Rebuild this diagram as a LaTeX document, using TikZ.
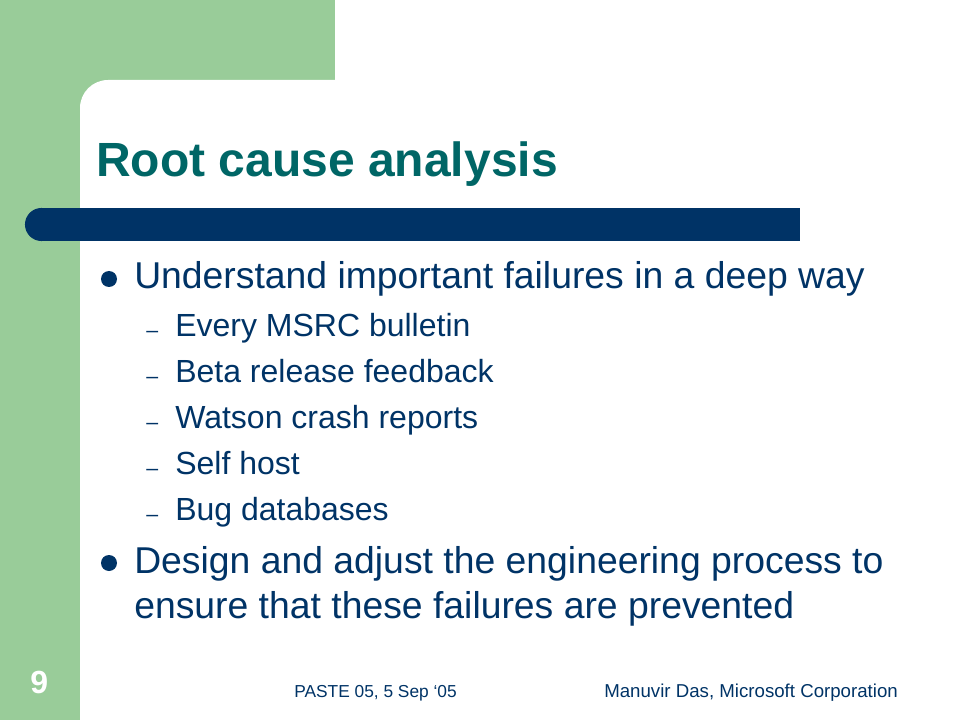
\documentclass[tikz,border=0pt]{standalone}
\usepackage{fontspec}
\setmainfont{Liberation Sans}
\usepackage{tikz}
\usepackage{color}
\definecolor{slidegreen}{RGB}{153,204,153}
\definecolor{slideteal}{RGB}{0,102,102}
\definecolor{slidenavy}{RGB}{0,51,102}

\begin{document}
\begin{tikzpicture}[x=0.75pt,y=-0.75pt,
  txt/.style={anchor=base west,inner sep=0pt,text=slidenavy},
  big/.style={txt,font=\fontsize{28}{34}\selectfont},
  small/.style={txt,font=\fontsize{24}{29}\selectfont},
  subdash/.style={txt,font=\fontsize{16}{19}\selectfont},
  foot/.style={txt,font=\fontsize{14}{17}\selectfont},
  dot/.style={circle,fill=slidenavy,minimum size=12pt,inner sep=0pt}]
\useasboundingbox (0,0) rectangle (960,720);
\fill[slidegreen] (0,0) rectangle (335,120);
\fill[slidegreen] (0,0) rectangle (80,720);
\fill[white,rounded corners=21pt] (80,80) rectangle (400,300);
\fill[slidenavy] (41.5,208) rectangle (800,241);
\fill[slidenavy] (41.5,224.5) circle[radius=12.4pt];
\node[txt,text=slideteal,font=\fontsize{36}{43}\selectfont\bfseries] (0) at (96,177) {Root cause analysis};
\node[dot] (d1) at (109,279) {};
\node[big] (1) at (134,289) {Understand important failures in a deep way};
\node[subdash] (m1) at (146,337) {–};
\node[small] (1a) at (175,336) {Every MSRC bulletin};
\node[subdash] (m2) at (146,383) {–};
\node[small] (1b) at (175,382) {Beta release feedback};
\node[subdash] (m3) at (146,429) {–};
\node[small] (1c) at (175,428) {Watson crash reports};
\node[subdash] (m4) at (146,475) {–};
\node[small] (1d) at (175,474) {Self host};
\node[subdash] (m5) at (146,521) {–};
\node[small] (1e) at (175,520) {Bug databases};
\node[dot] (d2) at (109,563) {};
\node[big] (2) at (134,573) {Design and adjust the engineering process to};
\node[big] (2b) at (134,618) {ensure that these failures are prevented};
\node[txt,text=white,font=\fontsize{24}{28}\selectfont\bfseries] (9) at (30,693) {9};
\node[foot,font=\fontsize{13}{16}\selectfont] (f1) at (294,697) {PASTE 05, 5 Sep ‘05};
\node[foot] (f2) at (604,697) {Manuvir Das, Microsoft Corporation};
\end{tikzpicture}
\end{document}
